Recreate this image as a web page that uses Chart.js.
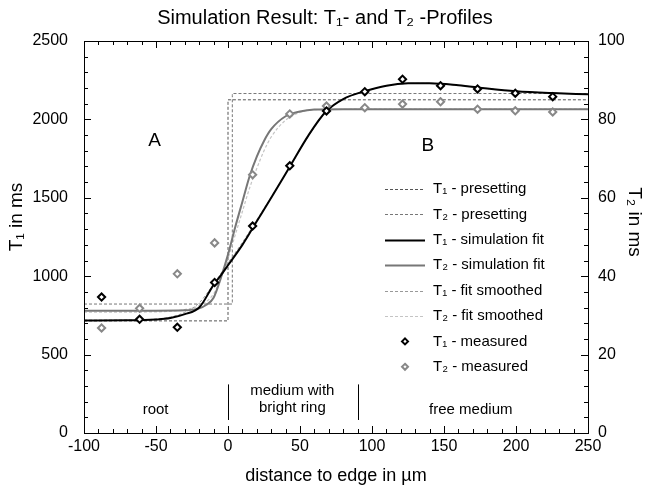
<!DOCTYPE html>
<html>
<head>
<meta charset="utf-8">
<script src="https://cdn.jsdelivr.net/npm/chart.js@4.4.1/dist/chart.umd.min.js"></script>
<style>
  body { margin: 0; background: #fff; }
  canvas { display: block; }
</style>
</head>
<body>
<canvas id="chart" width="650" height="489"></canvas>
<script>
// データ (x: 距離 µm, T1: ms, T2: ms)
const presetT1X = [-100, 0, 0, 250];
const presetT1Y = [715, 715, 2125, 2125];
const presetT2X = [-100, 3, 3, 250];
const presetT2Y = [32.9, 32.9, 86.6, 86.6];

const fitT1X = [-100, -70, -50, -40, -30, -20, -10, -5, 0, 10, 20, 30, 43, 56, 68, 80, 95, 110, 125, 140, 160, 180, 200, 225, 250];
const fitT1Y = [718, 719, 724, 733, 758, 800, 945, 1005, 1070, 1200, 1350, 1500, 1700, 1900, 2050, 2130, 2180, 2215, 2230, 2231, 2218, 2197, 2180, 2168, 2160];

const fitT2X = [-100, -50, -30, -20, -15, -10, -5, 0, 5, 10, 15, 20, 25, 30, 40, 50, 60, 80, 100, 150, 200, 250];
const fitT2Y = [31.2, 31.2, 31.3, 31.8, 32.7, 34.5, 39.5, 45.5, 52.5, 59, 65.5, 70.5, 74.5, 77.5, 80.8, 82, 82.5, 82.6, 82.6, 82.6, 82.6, 82.6];

const smoothT1X = [-100, -60, -40, -30, -20, -10, 0, 10, 20, 30, 43, 56, 68, 80, 95, 110, 125, 140, 160, 180, 200, 225, 250];
const smoothT1Y = [720, 722, 740, 770, 830, 950, 1085, 1215, 1360, 1505, 1700, 1895, 2045, 2128, 2180, 2214, 2229, 2230, 2217, 2197, 2180, 2168, 2160];

const smoothT2X = [-100, -50, -30, -20, -10, -5, 0, 5, 10, 15, 20, 25, 30, 40, 50, 60, 100, 250];
const smoothT2Y = [30.8, 30.9, 31.5, 32.5, 35.5, 39.5, 44.5, 50.5, 56.5, 62.5, 67.5, 72, 75.5, 79.8, 81.8, 82.5, 82.6, 82.6];

const measX = [-87.8, -61.4, -35.2, -9.3, 17.1, 42.9, 68.4, 95, 121.2, 147.6, 173.3, 199.5, 225.5];
const measT1 = [867, 725, 674, 960, 1320, 1704, 2054, 2177, 2256, 2215, 2194, 2167, 2145];
const measT2 = [26.8, 31.8, 40.6, 48.5, 65.9, 81.4, 83.4, 83.0, 83.9, 84.5, 82.6, 82.2, 81.9];

const xTicks = [-100, -50, 0, 50, 100, 150, 200, 250];
const t1Ticks = [0, 500, 1000, 1500, 2000, 2500];
const t2Ticks = [0, 20, 40, 60, 80, 100];

const FONT = "'Liberation Sans', Arial, sans-serif";

// x と y の配列を点に変換
function toPoints(xs, ys) {
  return xs.map((x, i) => ({ x: x, y: ys[i] }));
}

function lineSet(label, xs, ys, axis, color, width, dash, order) {
  return {
    label: label,
    data: toPoints(xs, ys),
    yAxisID: axis,
    borderColor: color,
    borderWidth: width,
    borderDash: dash,
    pointRadius: 0,
    fill: false,
    tension: 0,
    cubicInterpolationMode: 'monotone',
    order: order,
  };
}

function pointSet(label, xs, ys, axis, color) {
  return {
    label: label,
    data: toPoints(xs, ys),
    yAxisID: axis,
    showLine: false,
    pointStyle: 'rectRot',
    pointRadius: 3.6,
    pointBorderWidth: 2,
    pointBorderColor: color,
    pointBackgroundColor: '#fff',
    borderColor: color,
    backgroundColor: '#fff',
    order: 0,
  };
}

const datasets = [
  lineSet('T₁ - presetting', presetT1X, presetT1Y, 'y', '#555', 1, [3, 2], 3),
  lineSet('T₂ - presetting', presetT2X, presetT2Y, 'y2', '#777', 1, [3, 2], 3),
  lineSet('T₁ - simulation fit', fitT1X, fitT1Y, 'y', '#000', 2, [], 1),
  lineSet('T₂ - simulation fit', fitT2X, fitT2Y, 'y2', '#777', 2, [], 1),
  lineSet('T₁ - fit smoothed', smoothT1X, smoothT1Y, 'y', '#999', 1, [3, 2], 2),
  lineSet('T₂ - fit smoothed', smoothT2X, smoothT2Y, 'y2', '#c4c4c4', 1.2, [3, 2], 2),
  pointSet('T₁ - measured', measX, measT1, 'y', '#000'),
  pointSet('T₂ - measured', measX, measT2, 'y2', '#888'),
];

// 回転した文字
function rotatedText(ctx, text, x, y, angle) {
  ctx.save();
  ctx.translate(x, y);
  ctx.rotate(angle);
  ctx.fillText(text, 0, 0);
  ctx.restore();
}

// 枠・目盛り・注記・凡例を描くプラグイン
const decorPlugin = {
  id: 'decor',
  afterDatasetsDraw(chart) {
    const { ctx, chartArea: a, scales } = chart;
    ctx.save();
    ctx.strokeStyle = '#000';
    ctx.lineWidth = 1;

    // 枠
    ctx.strokeRect(Math.round(a.left) + 0.5, Math.round(a.top) + 0.5,
      Math.round(a.right - a.left), Math.round(a.bottom - a.top));

    // 内向きの目盛り
    ctx.beginPath();
    for (let v = -100; v <= 250; v += 10) {
      const px = Math.round(scales.x.getPixelForValue(v)) + 0.5;
      const len = v % 50 === 0 ? 7 : 4;
      ctx.moveTo(px, a.bottom); ctx.lineTo(px, a.bottom - len);
      ctx.moveTo(px, a.top); ctx.lineTo(px, a.top + len);
    }
    for (let v = 0; v <= 2500; v += 100) {
      const py = Math.round(scales.y.getPixelForValue(v)) + 0.5;
      const len = v % 500 === 0 ? 7 : 4;
      ctx.moveTo(a.left, py); ctx.lineTo(a.left + len, py);
    }
    for (let v = 0; v <= 100; v += 4) {
      const py = Math.round(scales.y2.getPixelForValue(v)) + 0.5;
      const len = v % 20 === 0 ? 7 : 4;
      ctx.moveTo(a.right, py); ctx.lineTo(a.right - len, py);
    }
    ctx.stroke();

    // 領域の区切り線
    ctx.beginPath();
    [0, 90].forEach(v => {
      const px = Math.round(scales.x.getPixelForValue(v)) + 0.5;
      ctx.moveTo(px, scales.y.getPixelForValue(310));
      ctx.lineTo(px, scales.y.getPixelForValue(83));
    });
    ctx.stroke();

    // 領域ラベル
    ctx.fillStyle = '#000';
    ctx.textAlign = 'center';
    ctx.textBaseline = 'middle';
    ctx.font = '15px ' + FONT;
    const notes = [
      ['root', -50.3, 150],
      ['medium with', 44.7, 270],
      ['bright ring', 44.7, 162],
      ['free medium', 168.6, 150],
    ];
    notes.forEach(n => {
      ctx.fillText(n[0], scales.x.getPixelForValue(n[1]), scales.y.getPixelForValue(n[2]));
    });
    ctx.font = '19px ' + FONT;
    ctx.fillText('A', scales.x.getPixelForValue(-51), scales.y.getPixelForValue(1866));
    ctx.fillText('B', scales.x.getPixelForValue(138.8), scales.y.getPixelForValue(1834));

    // タイトル
    ctx.font = '20px ' + FONT;
    ctx.fillText('Simulation Result: T₁- and T₂ -Profiles', 325, 18);

    // 軸タイトル
    ctx.font = '19px ' + FONT;
    rotatedText(ctx, 'T₁ in ms', 17, 217, -Math.PI / 2);
    rotatedText(ctx, 'T₂ in ms', 634, 222, Math.PI / 2);

    // 凡例
    ctx.textAlign = 'left';
    ctx.font = '15px ' + FONT;
    chart.data.datasets.forEach((ds, i) => {
      const y = 189 + i * 25.4;
      if (ds.showLine === false) {
        const r = 3;
        ctx.beginPath();
        ctx.moveTo(405, y - r); ctx.lineTo(405 + r, y);
        ctx.lineTo(405, y + r); ctx.lineTo(405 - r, y);
        ctx.closePath();
        ctx.fillStyle = '#fff';
        ctx.fill();
        ctx.lineWidth = 2;
        ctx.strokeStyle = ds.pointBorderColor;
        ctx.setLineDash([]);
        ctx.stroke();
      } else {
        ctx.beginPath();
        ctx.lineWidth = ds.borderWidth;
        ctx.strokeStyle = ds.borderColor;
        ctx.setLineDash(ds.borderDash);
        ctx.moveTo(385, Math.round(y) + 0.5);
        ctx.lineTo(425, Math.round(y) + 0.5);
        ctx.stroke();
        ctx.setLineDash([]);
      }
      ctx.fillStyle = '#000';
      ctx.fillText(ds.label, 433, y);
    });
    ctx.restore();
  }
};

const tickFont = { family: FONT, size: 16 };
const titleFont = { family: FONT, size: 18 };
const plainLabel = v => String(v);

new Chart(document.getElementById('chart'), {
  type: 'line',
  data: { datasets: datasets },
  plugins: [decorPlugin],
  options: {
    responsive: false,
    animation: false,
    devicePixelRatio: 1,
    layout: { padding: { top: 41, left: 0, right: 0, bottom: 0 } },
    plugins: {
      legend: { display: false },
      tooltip: { enabled: false },
    },
    scales: {
      x: {
        type: 'linear',
        min: -100,
        max: 250,
        afterBuildTicks: s => { s.ticks = xTicks.map(v => ({ value: v })); },
        ticks: { color: '#000', font: tickFont, padding: 4, maxRotation: 0, callback: plainLabel },
        grid: { display: false, drawTicks: false },
        border: { display: false },
        title: { display: true, text: 'distance to edge in µm', color: '#000', font: titleFont, padding: { top: 0, bottom: 2 } },
        afterFit: s => { s.height = 56; },
      },
      y: {
        position: 'left',
        min: 0,
        max: 2500,
        afterBuildTicks: s => { s.ticks = t1Ticks.map(v => ({ value: v })); },
        ticks: { color: '#000', font: tickFont, padding: 16, callback: plainLabel },
        grid: { display: false, drawTicks: false },
        border: { display: false },
        afterFit: s => { s.width = 84; },
      },
      y2: {
        position: 'right',
        min: 0,
        max: 100,
        afterBuildTicks: s => { s.ticks = t2Ticks.map(v => ({ value: v })); },
        ticks: { color: '#000', font: tickFont, padding: 10, callback: plainLabel },
        grid: { display: false, drawTicks: false },
        border: { display: false },
        afterFit: s => { s.width = 62; },
      },
    },
  },
});
</script>
</body>
</html>
